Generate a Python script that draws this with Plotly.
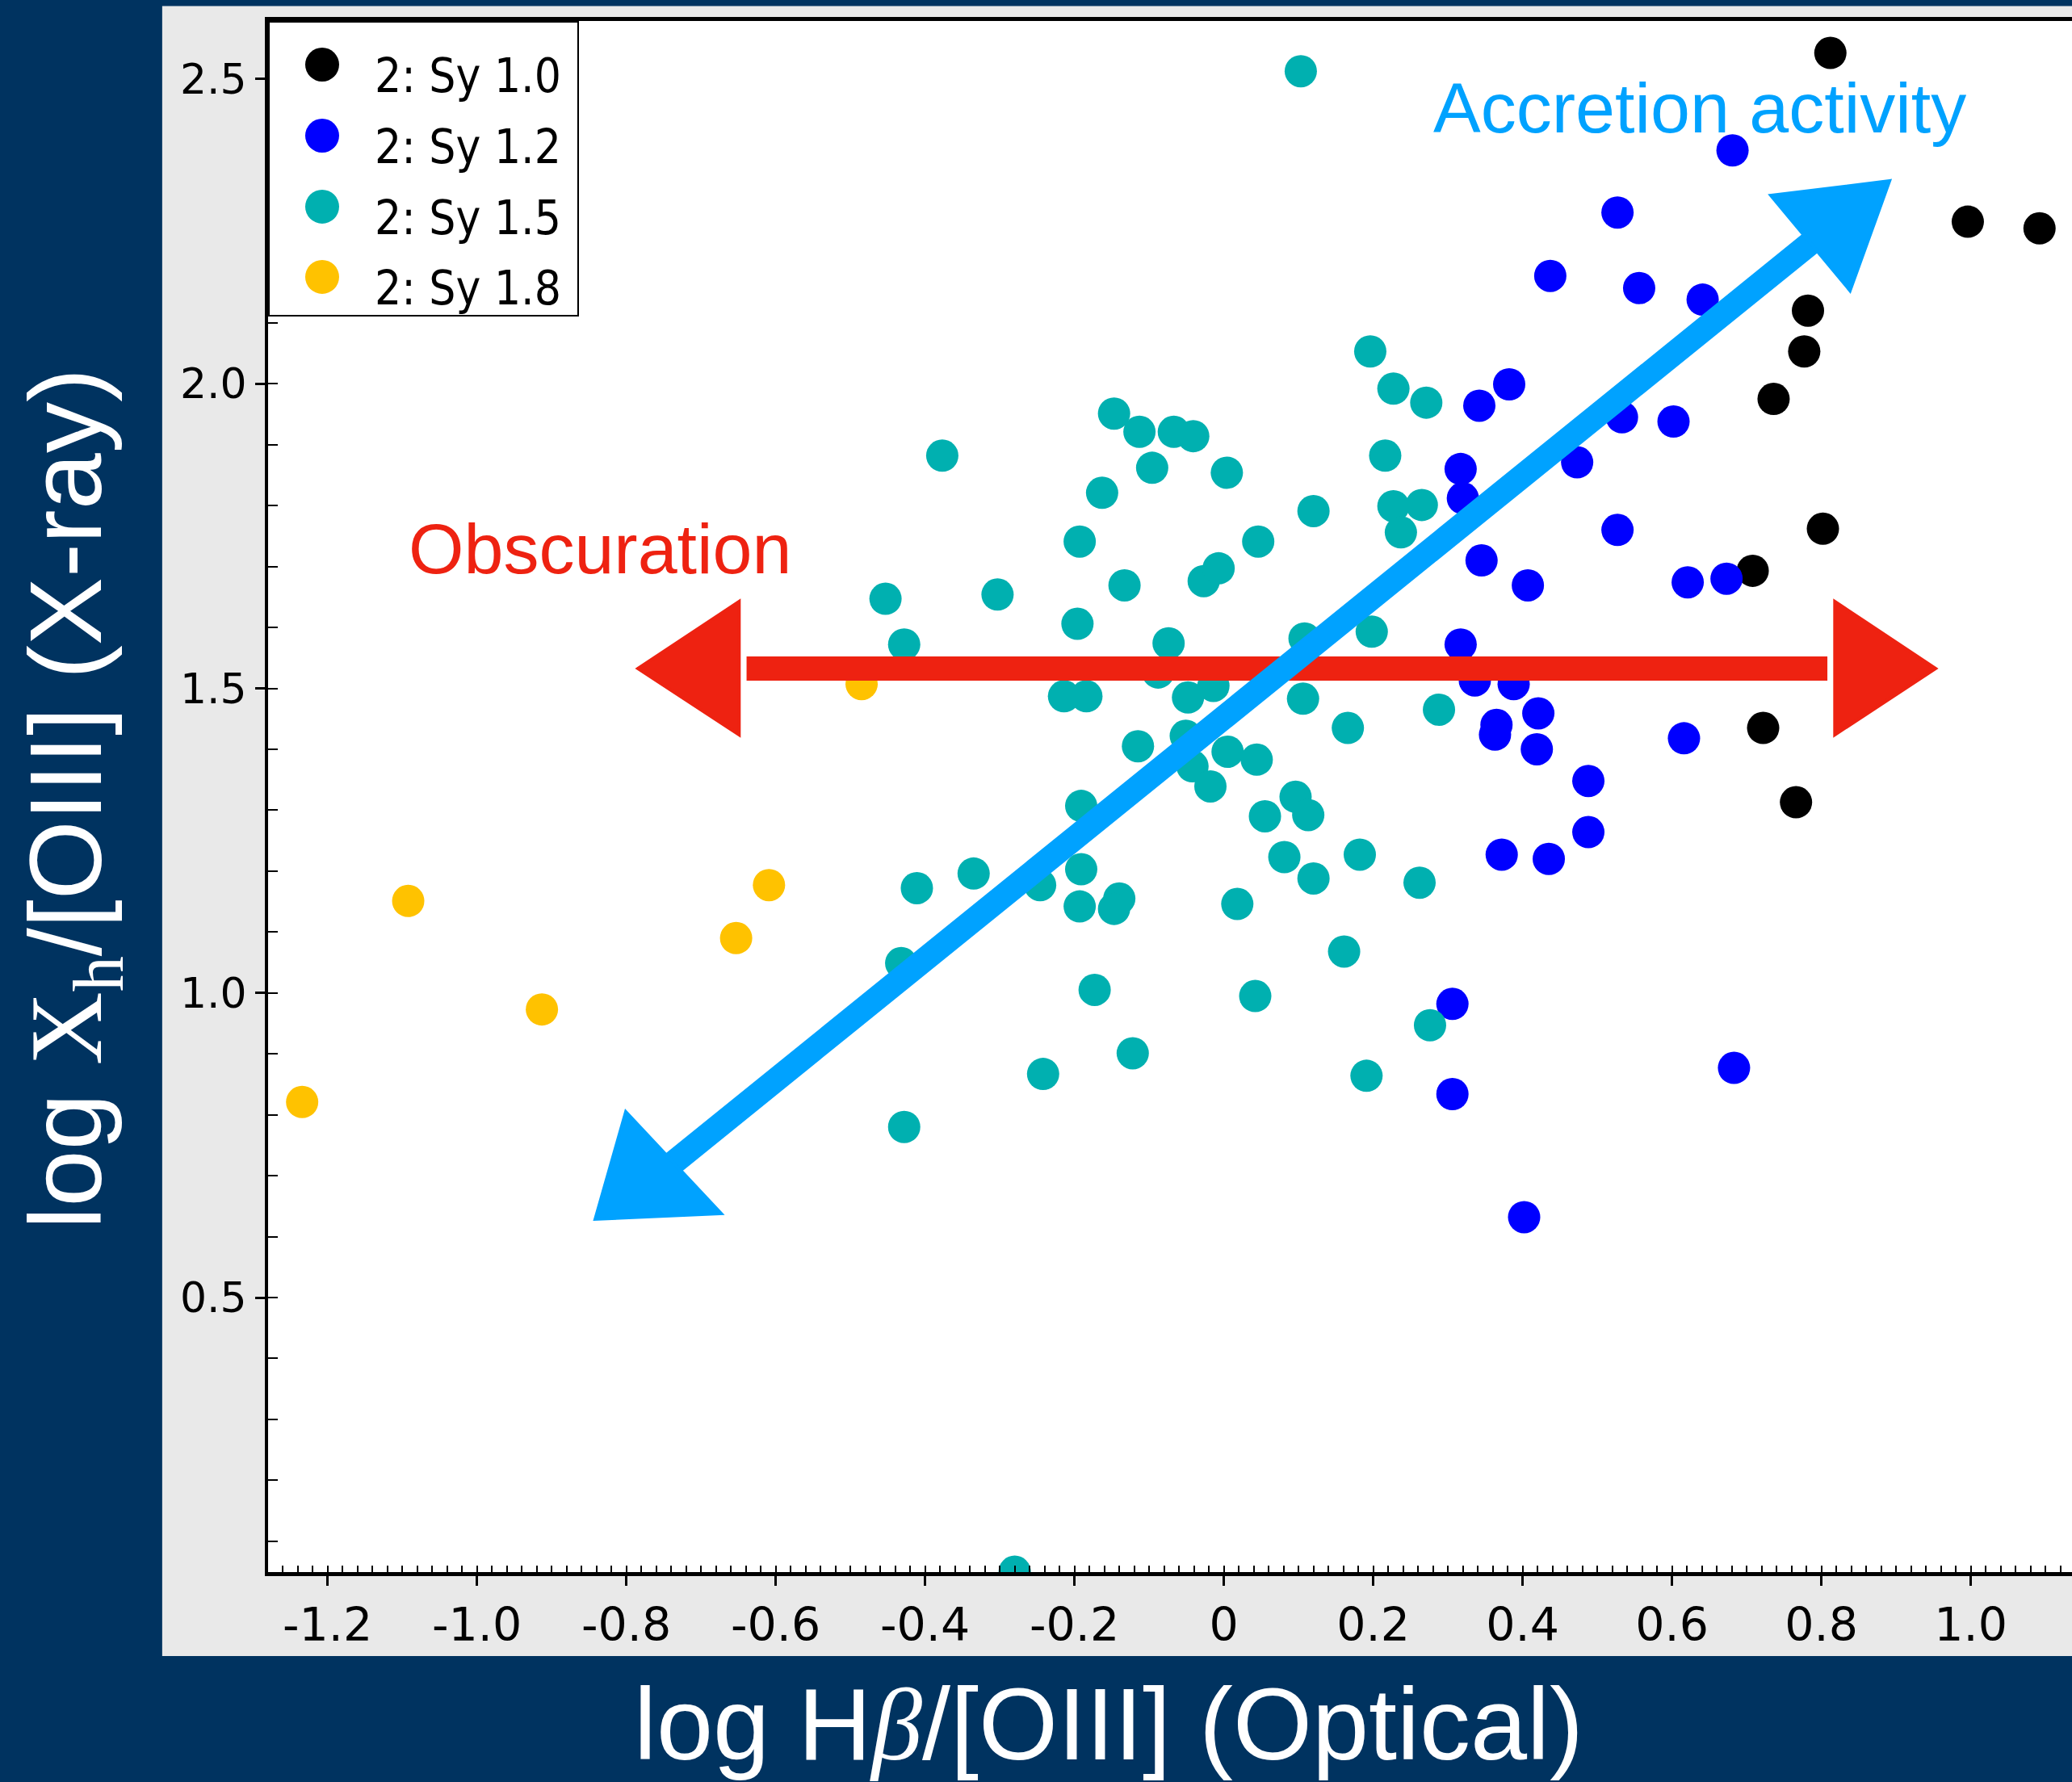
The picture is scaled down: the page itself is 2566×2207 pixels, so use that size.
import plotly.graph_objects as go

# ---------------- data ----------------
sy10_x = [0.812, 0.996, 1.092, 0.782, 0.777, 0.736, 0.802, 0.708, 0.722, 0.766]
sy10_y = [2.543, 2.266, 2.255, 2.120, 2.053, 1.975, 1.762, 1.693, 1.435, 1.313]

sy12_x = [0.681, 0.527, 0.437, 0.556, 0.641, 0.382, 0.342, 0.533, 0.602, 0.317,
          0.473, 0.320, 0.345, 0.407, 0.527, 0.621, 0.673, 0.317, 0.336, 0.388,
          0.421, 0.365, 0.363, 0.419, 0.616, 0.488, 0.372, 0.435, 0.488, 0.306,
          0.306, 0.683, 0.402]
sy12_y = [2.383, 2.281, 2.177, 2.157, 2.138, 1.999, 1.964, 1.945, 1.938, 1.860,
          1.871, 1.812, 1.710, 1.669, 1.760, 1.674, 1.680, 1.572, 1.513, 1.507,
          1.459, 1.440, 1.424, 1.400, 1.418, 1.348, 1.227, 1.220, 1.264, 0.982,
          0.834, 0.877, 0.632]

sy15_x = [0.103, -0.377, -0.453, -0.428, -0.303, -0.147, -0.113, -0.096, -0.067, -0.041,
          0.004, -0.163, -0.193, -0.133, -0.196, -0.074, -0.027, -0.007, 0.046, 0.120,
          0.196, 0.227, 0.271, 0.216, 0.227, 0.265, 0.237, 0.108, 0.198, -0.214,
          -0.184, -0.088, -0.048, -0.014, 0.106, 0.288, 0.166, -0.115, -0.051, -0.042,
          0.005, 0.044, -0.018, -0.191, 0.055, 0.096, 0.113, -0.335, -0.411, -0.246,
          -0.191, -0.193, -0.140, -0.147, 0.081, 0.120, 0.182, 0.262, 0.018, -0.432,
          -0.173, -0.122, -0.242, -0.428, 0.042, 0.161, 0.276, 0.191, -0.280]
sy15_y = [2.513, 1.882, 1.647, 1.572, 1.654, 1.951, 1.921, 1.862, 1.921, 1.914,
          1.854, 1.821, 1.741, 1.669, 1.606, 1.574, 1.676, 1.697, 1.741, 1.791,
          2.053, 1.992, 1.969, 1.882, 1.799, 1.801, 1.756, 1.582, 1.593, 1.487,
          1.487, 1.526, 1.485, 1.504, 1.483, 1.465, 1.435, 1.405, 1.422, 1.372,
          1.396, 1.383, 1.339, 1.307, 1.290, 1.322, 1.292, 1.196, 1.172, 1.177,
          1.203, 1.142, 1.155, 1.138, 1.223, 1.188, 1.227, 1.181, 1.146, 1.049,
          1.005, 0.901, 0.867, 0.780, 0.995, 1.068, 0.947, 0.864, 0.050]

sy18_x = [-1.234, -1.092, -0.913, -0.653, -0.609, -0.485]
sy18_y = [0.821, 1.151, 0.973, 1.090, 1.177, 1.507]

series_names = ["2: Sy 1.0", "2: Sy 1.2", "2: Sy 1.5", "2: Sy 1.8"]
series_colors = ["#000000", "#0000ff", "#00b0b0", "#ffc200"]

x_tick_vals = [-1.2, -1.0, -0.8, -0.6, -0.4, -0.2, 0.0, 0.2, 0.4, 0.6, 0.8, 1.0]
x_tick_text = ["-1.2", "-1.0", "-0.8", "-0.6", "-0.4", "-0.2", "0", "0.2", "0.4", "0.6", "0.8", "1.0"]
y_tick_vals = [0.5, 1.0, 1.5, 2.0, 2.5]
y_tick_text = ["0.5", "1.0", "1.5", "2.0", "2.5"]

# ---------------- styling constants ----------------
NAVY = "#003360"
PANEL = "#e9e9e9"
RED = "#ee2211"
SKY = "#00a2ff"
W, H = 2566, 2207
ML, MR, MT, MB = 332, 0, 26, 260
X_RANGE = [-1.2796, 1.1355]
Y_RANGE = [0.0494, 2.5954]

# annotation arrow geometry (data coordinates)
red_y = 1.5325
red_left = [(-0.7844, red_y), (-0.649, 1.6425), (-0.649, 1.4238)]
red_right = [(0.9528, red_y), (0.818, 1.6425), (0.818, 1.4238)]
blue_low = [(-0.8417, 0.6286), (-0.8007, 0.8048), (-0.673, 0.6379)]
blue_up = [(0.8913, 2.333), (0.7323, 2.309), (0.8383, 2.1528)]

fig = go.Figure()

all_x = [sy10_x, sy12_x, sy15_x, sy18_x]
all_y = [sy10_y, sy12_y, sy15_y, sy18_y]
for name, c, xs, ys in zip(series_names, series_colors, all_x, all_y):
    fig.add_trace(go.Scatter(
        x=xs, y=ys, mode="markers", name=name, showlegend=False,
        marker=dict(size=40, color=c, line=dict(width=0)),
        cliponaxis=True, hoverinfo="skip"))

# legend drawn in a small overlay subplot (keeps marker size like the reference)
leg_mx = 0.174
leg_my = [0.8525, 0.612, 0.3716, 0.1339]
leg_ty = [0.814, 0.574, 0.333, 0.096]
fig.add_trace(go.Scatter(
    x=[leg_mx] * 4, y=leg_my, xaxis="x2", yaxis="y2", mode="markers",
    marker=dict(size=42, color=series_colors), showlegend=False, hoverinfo="skip"))

shapes = []
# grey panel behind the plot, then white plot area
shapes.append(dict(type="rect", xref="paper", yref="paper",
                   x0=-0.0587, x1=1.01, y0=-0.0541, y1=1.0096,
                   fillcolor=PANEL, line=dict(width=0), layer="below"))
shapes.append(dict(type="rect", xref="paper", yref="paper",
                   x0=0, x1=1, y0=0, y1=1,
                   fillcolor="white", line=dict(width=0), layer="below"))
# legend box
shapes.append(dict(type="rect", xref="x2", yref="y2", x0=0, x1=1, y0=0, y1=1,
                   fillcolor="white", line=dict(color="black", width=4), layer="below"))


def tri(pts, color):
    p = "M {} {} L {} {} L {} {} Z".format(pts[0][0], pts[0][1], pts[1][0], pts[1][1],
                                          pts[2][0], pts[2][1])
    return dict(type="path", xref="x", yref="y", path=p, fillcolor=color,
                line=dict(color=color, width=4), layer="above")


def mid(a, b):
    return ((a[0] + b[0]) / 2, (a[1] + b[1]) / 2)


# red horizontal double arrow (Obscuration)
shapes.append(dict(type="line", xref="x", yref="y",
                   x0=red_left[1][0] + 0.01, y0=red_y, x1=red_right[1][0] - 0.01, y1=red_y,
                   line=dict(color=RED, width=30), layer="above"))
shapes.append(tri(red_left, RED))
shapes.append(tri(red_right, RED))
# blue diagonal double arrow (Accretion activity)
bl = mid(blue_low[1], blue_low[2])
bu = mid(blue_up[1], blue_up[2])
shapes.append(dict(type="line", xref="x", yref="y",
                   x0=bl[0], y0=bl[1], x1=bu[0], y1=bu[1],
                   line=dict(color=SKY, width=30), layer="above"))
shapes.append(tri(blue_low, SKY))
shapes.append(tri(blue_up, SKY))

annotations = []
for name, ty in zip(series_names, leg_ty):
    annotations.append(dict(xref="x2", yref="y2", x=0.338, y=ty, text=name,
                            showarrow=False, xanchor="left", yanchor="middle",
                            font=dict(family="DejaVu Sans Condensed, DejaVu Sans", size=58,
                                      color="black")))

annotations.append(dict(xref="x", yref="y", x=-0.835, y=1.729, text="Obscuration",
                        showarrow=False, xanchor="center", yanchor="middle",
                        font=dict(family="Liberation Sans, Arial", size=88, color=RED)))
annotations.append(dict(xref="x", yref="y", x=0.637, y=2.453, text="Accretion activity",
                        showarrow=False, xanchor="center", yanchor="middle",
                        font=dict(family="Liberation Sans, Arial", size=88, color=SKY)))

# axis titles (white on navy)
annotations.append(dict(
    xref="paper", yref="paper", x=0.466, y=-0.098,
    text="log H<span style='font-family:Liberation Serif'><i>β</i></span>/[OIII] (Optical)",
    showarrow=False, xanchor="center", yanchor="middle",
    font=dict(family="Liberation Sans, Arial", size=126, color="white")))
annotations.append(dict(
    xref="paper", yref="paper", x=-0.1077, y=0.4987, textangle=-90,
    text="log <span style='font-family:Liberation Serif'>X<sub>h</sub></span>/[OIII] (X-ray)",
    showarrow=False, xanchor="center", yanchor="middle",
    font=dict(family="Liberation Sans, Arial", size=126, color="white")))

fig.update_layout(
    width=W, height=H,
    margin=dict(l=ML, r=MR, t=MT, b=MB, pad=0),
    paper_bgcolor=NAVY, plot_bgcolor="white",
    showlegend=False,
    shapes=shapes, annotations=annotations,
    xaxis=dict(range=X_RANGE, tickmode="array", tickvals=x_tick_vals, ticktext=x_tick_text,
               ticks="outside", ticklen=12, tickwidth=3, tickcolor="black",
               showline=True, linecolor="black", linewidth=5, mirror=True,
               showgrid=False, zeroline=False,
               tickfont=dict(family="DejaVu Sans", size=57, color="black"),
               minor=dict(tickmode="linear", tick0=0, dtick=0.02, ticks="inside",
                          ticklen=8, tickwidth=2, tickcolor="black", showgrid=False)),
    yaxis=dict(range=Y_RANGE, tickmode="array", tickvals=y_tick_vals, ticktext=y_tick_text,
               ticks="outside", ticklen=12, tickwidth=3, tickcolor="black",
               showline=True, linecolor="black", linewidth=4, mirror=False,
               showgrid=False, zeroline=False,
               tickfont=dict(family="DejaVu Sans", size=52, color="black"),
               minor=dict(tickmode="linear", tick0=0, dtick=0.1, ticks="inside",
                          ticklen=12, tickwidth=2, tickcolor="black", showgrid=False)),
    xaxis2=dict(domain=[0, 0.1723], range=[0, 1], anchor="y2", visible=False, fixedrange=True),
    yaxis2=dict(domain=[0.8095, 1], range=[0, 1], anchor="x2", visible=False, fixedrange=True),
)

fig.write_html("out.html")
